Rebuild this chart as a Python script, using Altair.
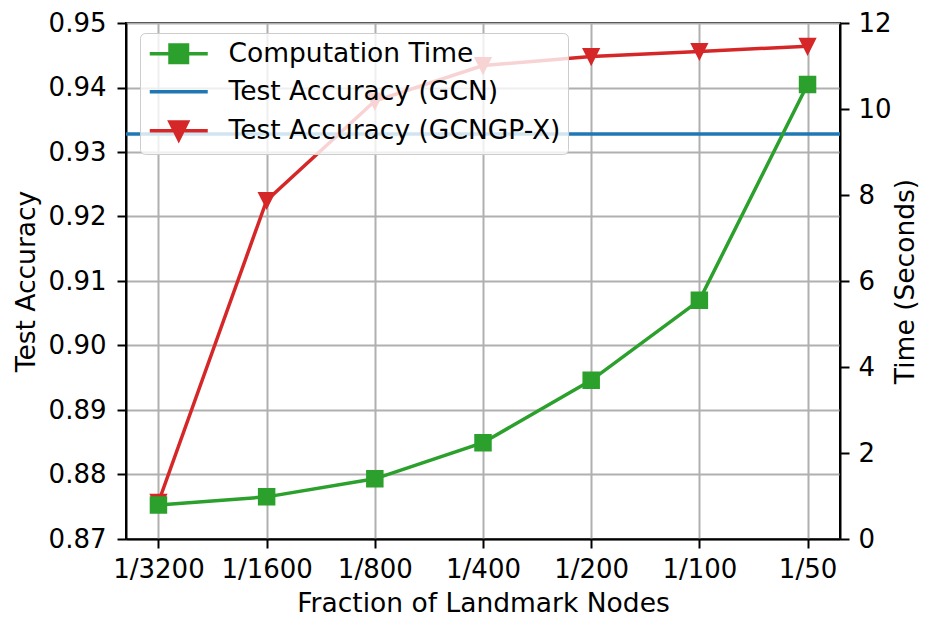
import altair as alt
import pandas as pd

# ---- data ----
categories = ["1/3200", "1/1600", "1/800", "1/400", "1/200", "1/100", "1/50"]
gcngp_accuracy = [0.8757, 0.9225, 0.9379, 0.9434, 0.9448, 0.9456, 0.9464]
gcn_accuracy = [0.9328]
computation_time = [0.79, 0.98, 1.40, 2.24, 3.69, 5.55, 10.57]

series_names = ["Computation Time", "Test Accuracy (GCN)", "Test Accuracy (GCNGP-X)"]
series_colors = ["#2ca02c", "#1f77b4", "#d62728"]
acc_ticks = [0.87, 0.88, 0.89, 0.90, 0.91, 0.92, 0.93, 0.94, 0.95]
time_ticks = [0, 2, 4, 6, 8, 10, 12]

# legend symbols: line + marker glyphs (custom SVG paths)
legend_shapes = [
    "M-1.1,0H4.7M0.925,-0.875H2.675V0.875H0.925Z",
    "M-1.1,0H4.7",
    "M-1.1,0H4.7M0.925,-0.875H2.675L1.8,0.875Z",
]
TRI_DOWN = "M-1,-1L1,-1L0,1Z"

acc_df = pd.DataFrame({"fraction": categories, "accuracy": gcngp_accuracy})
gcn_df = pd.DataFrame({"accuracy": gcn_accuracy})
time_df = pd.DataFrame({"fraction": categories, "time": computation_time})
legend_df = pd.DataFrame({"series": series_names})

FONT = "DejaVu Sans"
TICK_FS = 26
TITLE_FS = 26.5

x_enc = alt.X(
    "fraction:N",
    sort=categories,
    scale=alt.Scale(type="point", domain=categories, padding=0.3),
    axis=alt.Axis(
        title="Fraction of Landmark Nodes",
        labelAngle=0,
        grid=True,
        labelPadding=8,
        titlePadding=8,
    ),
)

y_acc = alt.Y(
    "accuracy:Q",
    scale=alt.Scale(domain=[0.87, 0.95], nice=False, zero=False),
    axis=alt.Axis(
        title="Test Accuracy",
        values=acc_ticks,
        format=".2f",
        grid=True,
        labelPadding=11,
        titlePadding=8,
    ),
)

y_time = alt.Y(
    "time:Q",
    scale=alt.Scale(domain=[0, 12], nice=False),
    axis=alt.Axis(
        title="Time (Seconds)",
        orient="right",
        values=time_ticks,
        grid=False,
        labelPadding=9,
        titlePadding=1,
        titleAngle=270,
        titleBaseline="top",
    ),
)

legend = alt.Legend(
    title=None,
    orient="none",
    legendX=14,
    legendY=10,
    labelFont=FONT,
    labelFontSize=TITLE_FS,
    labelColor="black",
    labelLimit=0,
    labelOffset=54.5,
    symbolSize=400,
    symbolStrokeWidth=3.5,
    symbolOpacity=1,
    rowPadding=9,
    padding=7.5,
    fillColor="rgba(255,255,255,0.8)",
    strokeColor="#cccccc",
    cornerRadius=5,
)

gcn_rule = alt.Chart(gcn_df).mark_rule(color=series_colors[1], strokeWidth=3.5).encode(y=y_acc)

gcngp_line = alt.Chart(acc_df).mark_line(color=series_colors[2], strokeWidth=3.5).encode(x=x_enc, y=y_acc)
gcngp_pts = alt.Chart(acc_df).mark_point(
    shape=TRI_DOWN, size=225, filled=True, color=series_colors[2],
    stroke=series_colors[2], strokeWidth=2, opacity=1,
).encode(x=x_enc, y=y_acc)

legend_layer = alt.Chart(legend_df).transform_filter("false").mark_point(
    filled=True, strokeWidth=3.5, opacity=1
).encode(
    fill=alt.Fill("series:N", scale=alt.Scale(domain=series_names, range=series_colors), legend=legend),
    stroke=alt.Stroke("series:N", scale=alt.Scale(domain=series_names, range=series_colors), legend=legend),
    shape=alt.Shape("series:N", scale=alt.Scale(domain=series_names, range=legend_shapes), legend=legend),
)

acc_group = alt.layer(gcn_rule, gcngp_line, gcngp_pts, legend_layer)

time_line = alt.Chart(time_df).mark_line(color=series_colors[0], strokeWidth=3.5).encode(x=x_enc, y=y_time)
time_pts = alt.Chart(time_df).mark_point(
    shape="square", size=240, filled=True, color=series_colors[0],
    stroke=series_colors[0], strokeWidth=2, opacity=1,
).encode(x=x_enc, y=y_time)

time_group = alt.layer(time_line, time_pts)

chart = (
    alt.layer(acc_group, time_group)
    .resolve_scale(y="independent")
    .properties(
        width=714,
        height=516,
        autosize=alt.AutoSizeParams(type="none"),
        padding={"left": 118, "top": 15, "right": 80, "bottom": 82},
    )
    .configure(font=FONT)
    .configure_view(stroke="black", strokeWidth=2)
    .configure_axis(
        labelFont=FONT,
        labelFontSize=TICK_FS,
        labelColor="black",
        titleFont=FONT,
        titleFontSize=TITLE_FS,
        titleFontWeight="normal",
        titleColor="black",
        domainColor="black",
        domainWidth=2,
        tickColor="black",
        tickWidth=2,
        tickSize=9,
        gridColor="#b0b0b0",
        gridWidth=2,
        gridOpacity=1,
        labelFlush=False,
        labelOverlap=False,
    )
)

chart.save("out.html", embed_options={"renderer": "svg", "actions": False})
